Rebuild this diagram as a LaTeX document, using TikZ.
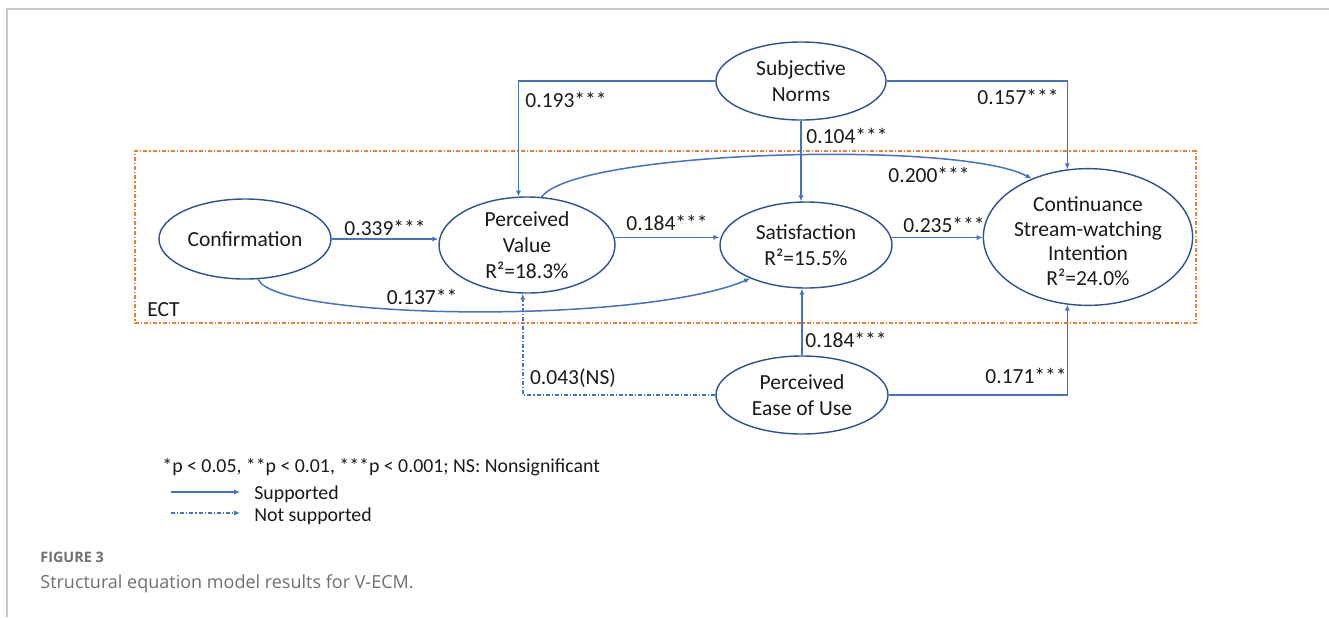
\documentclass[tikz,border=0pt]{standalone}
\usepackage{fontspec}
\setmainfont{Carlito}
\newfontfamily\capfont{Open Sans}
\usetikzlibrary{arrows.meta,shapes.geometric}
\definecolor{lineblue}{HTML}{4472C4}
\definecolor{ellblue}{HTML}{2F528F}
\definecolor{ectorange}{HTML}{ED7D31}
\definecolor{framegray}{HTML}{C8C8C8}
\definecolor{capgray}{HTML}{707070}
\definecolor{txt}{HTML}{1A1A1A}
\begin{document}
\begin{tikzpicture}[x=0.5pt,y=-0.5pt,
  construct/.style={ellipse, draw=ellblue, line width=0.7pt, inner sep=0pt, align=center, text=txt,
    font=\fontsize{10.75}{13}\selectfont},
  supp/.style={draw=lineblue, line width=0.75pt, -{Latex[length=3pt,width=2.6pt]}},
  nsupp/.style={supp, dash pattern=on 2pt off 1pt on 0.6pt off 1pt},
  coef/.style={font=\fontsize{10.75}{13}\selectfont, inner sep=0pt, text=txt},
  legtext/.style={font=\fontsize{9.9}{12}\selectfont, inner sep=0pt, anchor=west, text=txt},
]
\useasboundingbox (0,0) rectangle (1329,617);
\fill[white] (0,0) rectangle (1329,617);

% card frame
\coordinate (fa) at (7,617);
\coordinate (fb) at (7,9);
\coordinate (fc) at (1329,9);
\draw[framegray, line width=0.75pt] (fa) -- (fb) -- (fc);

% ECT box
\node[draw=ectorange, line width=0.75pt, dash pattern=on 2pt off 1pt on 0.6pt off 1pt,
  minimum width=530.5pt, minimum height=86pt, inner sep=0pt] (ect) at (665.5,237) {};
\node[coef, anchor=west] (ectlabel) at (147,310) {ECT};

% constructs
\node[construct, minimum width=86pt, minimum height=40pt] (conf) at (245,239) {Confirmation};
\node[construct, minimum width=88pt, minimum height=48pt] (pv) at (527,245) {Perceived\\Value\\R²=18.3\%};
\node[construct, minimum width=86pt, minimum height=43pt] (sat) at (806,245) {Satisfaction\\R²=15.5\%};
\node[construct, minimum width=89pt, minimum height=51pt,
  font=\fontsize{10.75}{12.25}\selectfont] (cswi) at (1088,237) {\rule{0pt}{11.5pt}Continuance\\Stream-watching\\Intention\\R²=24.0\%};
\node[construct, minimum width=85pt, minimum height=39pt] (sn) at (801,81) {Subjective\\Norms};
\node[construct, minimum width=86pt, minimum height=39pt] (peu) at (802,395) {Perceived\\Ease of Use};

% paths
\draw[supp] (conf.east) -- (pv.west |- conf.east);
\draw[supp] (pv.5) -- (pv.5 -| sat.west);
\draw[supp] (sat.5) -- (sat.5 -| cswi.west);
\draw[supp] (sn.west) -| (pv.100);
\draw[supp] (sn.east) -| (cswi.107);
\draw[supp] (sn.south) -- (sn.south |- sat.north);
\draw[supp] (peu.north) -- (peu.north |- sat.south);
\draw[supp] (peu.east) -| (cswi.253);
\draw[nsupp] (peu.west) -| (pv.265);
\draw[supp] (pv.73) .. controls (575,150) and (960,140) .. (cswi.134);
\draw[supp] (conf.-72) .. controls (275,320) and (640,325) .. (sat.-149);

% coefficients
\node[coef] (c339) at (385,228) {0.339***};
\node[coef] (c184a) at (667,223) {0.184***};
\node[coef] (c235) at (944,225) {0.235***};
\node[coef] (c193) at (566,100) {0.193***};
\node[coef] (c157) at (1018,97) {0.157***};
\node[coef] (c104) at (847,136) {0.104***};
\node[coef] (c200) at (929,175) {0.200***};
\node[coef] (c137) at (422,297) {0.137**};
\node[coef] (c184b) at (846,340) {0.184***};
\node[coef] (c043) at (573,378) {0.043(NS)};
\node[coef] (c171) at (1026,376) {0.171***};

% legend
\node[legtext] (leghead) at (162,467) {*p < 0.05, **p < 0.01, ***p < 0.001; NS: Nonsignificant};
\coordinate (ls1) at (171,492);
\coordinate (ls2) at (240,492);
\draw[supp] (ls1) -- (ls2);
\node[legtext] (legsupp) at (254,494) {Supported};
\coordinate (ln1) at (171,513);
\coordinate (ln2) at (240,513);
\draw[nsupp] (ln1) -- (ln2);
\node[legtext] (legnsupp) at (254,516) {Not supported};

% caption
\node[anchor=west, inner sep=0pt, text=capgray, font=\capfont\bfseries\fontsize{7.2}{8}\selectfont] (fig) at (40,557) {FIGURE 3};
\node[anchor=west, inner sep=0pt, text=capgray, font=\capfont\fontsize{9}{11}\selectfont] (cap) at (40,584) {Structural equation model results for V-ECM.};
\end{tikzpicture}
\end{document}
